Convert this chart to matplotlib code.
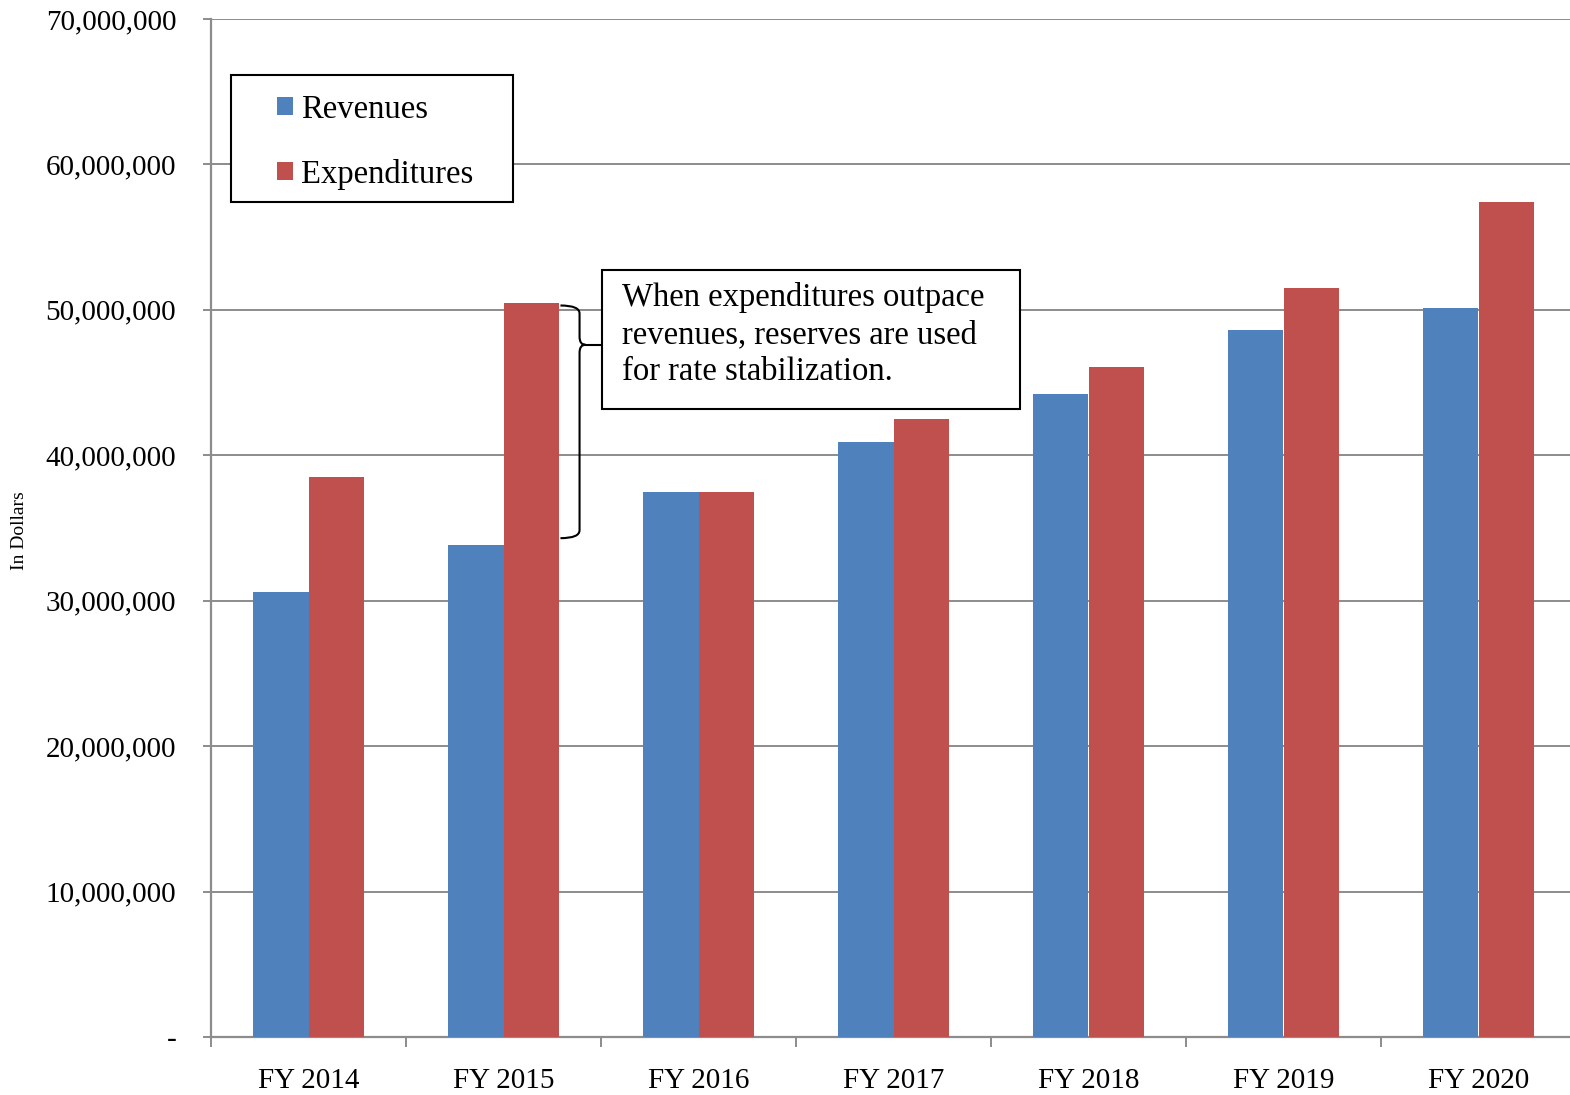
import numpy as np
import matplotlib.pyplot as plt
from matplotlib.patches import Rectangle, PathPatch
from matplotlib.path import Path
from matplotlib.ticker import FuncFormatter

# Revenue vs expenditure by fiscal year (dollars)
YEARS = ["FY 2014", "FY 2015", "FY 2016", "FY 2017", "FY 2018", "FY 2019", "FY 2020"]
REVENUES = [30.6e6, 33.8e6, 37.5e6, 40.9e6, 44.2e6, 48.6e6, 50.1e6]
EXPENDITURES = [38.5e6, 50.5e6, 37.5e6, 42.5e6, 46.1e6, 51.5e6, 57.4e6]
NOTE = "When expenditures outpace\nrevenues, reserves are used\nfor rate stabilization."

BLUE = "#4F81BD"
RED = "#C0504D"
GRID = "#8C8C8C"
W = 0.287

plt.rcParams['font.family'] = ['Liberation Serif', 'DejaVu Serif']

fig = plt.figure(figsize=(15.7, 10.95), dpi=100)
ax = fig.add_axes([211 / 1570, 1 - 1037 / 1095, 1365 / 1570, 1018 / 1095])

x = np.arange(len(YEARS))
ax.bar(x - W / 2, REVENUES, W, color=BLUE, label="Revenues", zorder=3)
ax.bar(x + W / 2, EXPENDITURES, W, color=RED, label="Expenditures", zorder=3)

ax.set_xlim(-0.5, len(YEARS) - 0.5)
ax.set_ylim(0, 70e6)
ax.set_yticks(np.arange(0, 70e6 + 1, 10e6))
ax.yaxis.set_major_formatter(FuncFormatter(lambda v, p: "-" if v == 0 else f"{v:,.0f}"))
ax.set_xticks(x)
ax.set_xticklabels(YEARS)
ax.set_xticks(np.arange(-0.5, len(YEARS), 1.0), minor=True)

ax.tick_params(axis="y", length=6, width=1.4, color=GRID, labelsize=21, pad=19)
ax.tick_params(axis="x", which="major", length=0, labelsize=21, pad=22)
ax.tick_params(axis="x", which="minor", length=7, width=1.4, color=GRID)
ax.grid(axis="y", color=GRID, linewidth=1.4, zorder=0)
for s in ["top", "right"]:
    ax.spines[s].set_visible(False)
for s in ["left", "bottom"]:
    ax.spines[s].set_color(GRID)
    ax.spines[s].set_linewidth(1.6)

fig.text(20 / 1570, 1 - 531 / 1095, "In Dollars", rotation=90, fontsize=14,
         ha="center", va="center")

# legend with its own square frame
ax.add_patch(Rectangle((20 / 1365, (1037 - 202) / 1018), 282 / 1365, 127 / 1018,
                       transform=ax.transAxes, facecolor="white", edgecolor="black",
                       linewidth=1.5, zorder=5))
leg = ax.legend(loc="upper left", bbox_to_anchor=(66 / 1365, (1037 - 94) / 1018),
                frameon=False, fontsize=23.5, handlelength=0.5, handleheight=0.5,
                handletextpad=0.25, labelspacing=1.05, borderpad=0, borderaxespad=0)
leg.set_zorder(6)

# brace marking the FY 2015 gap
top = EXPENDITURES[1] - 0.2e6
bot = REVENUES[1] + 0.5e6
tip = 47.6e6
x0, x1, nib = 1 + W + 0.005, 1.39, 0.03
ry = 0.55e6
verts = [(x0, top), (x1, top), (x1, top - ry),
         (x1, tip + ry), (x1, tip), (x1 + nib, tip),
         (x1, tip), (x1, tip - ry),
         (x1, bot + ry), (x1, bot), (x0, bot)]
codes = [Path.MOVETO, Path.CURVE3, Path.CURVE3,
         Path.LINETO, Path.CURVE3, Path.CURVE3,
         Path.CURVE3, Path.CURVE3,
         Path.LINETO, Path.CURVE3, Path.CURVE3]
ax.add_patch(PathPatch(Path(verts, codes), facecolor="none", edgecolor="black",
                       linewidth=1.5, zorder=5))
ax.plot([x1 + nib, 1.505], [tip, tip], color="black", linewidth=1.5, zorder=5)

# note box
ax.add_patch(Rectangle((1.505, 43.2e6), 2.144, 9.55e6, facecolor="white",
                       edgecolor="black", linewidth=1.5, zorder=5))
ax.text(1.608, 48.3e6, NOTE, fontsize=23.5, ha="left", va="center",
        linespacing=1.29, zorder=6)

fig.savefig("out.png", dpi=100)
